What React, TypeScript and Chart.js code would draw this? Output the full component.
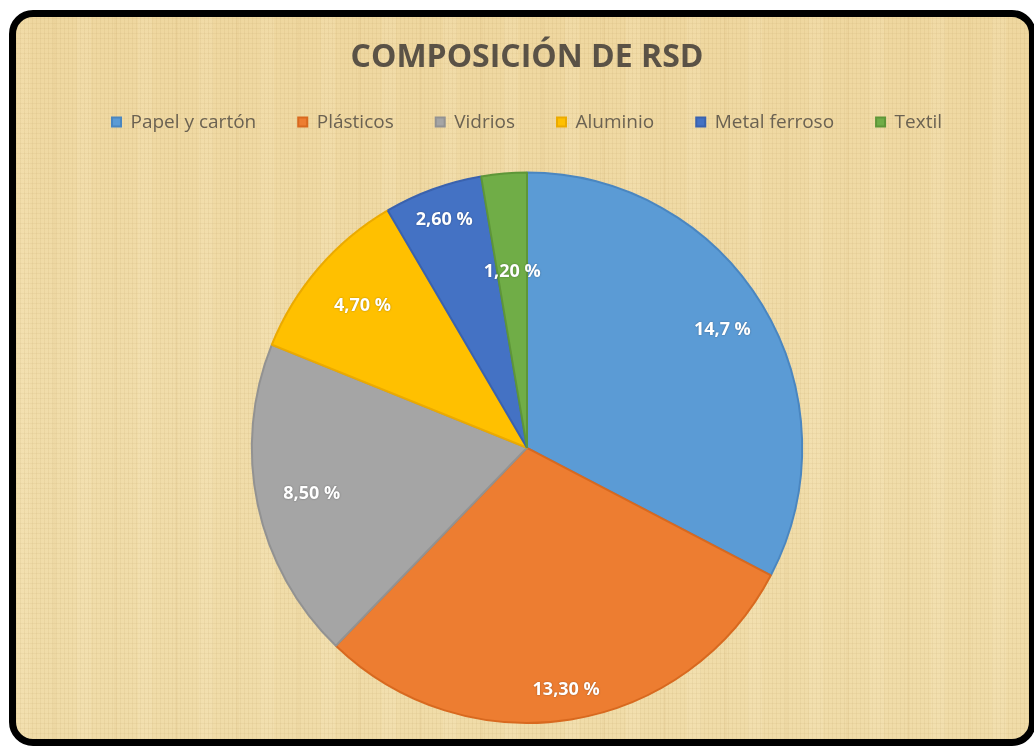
import React, { useEffect, useRef } from 'react';
import { Chart, registerables } from 'chart.js';

Chart.register(...registerables);

const chartTitle = 'COMPOSICIÓN DE RSD';
const categories = ['Papel y cartón', 'Plásticos', 'Vidrios', 'Aluminio', 'Metal ferroso', 'Textil'];
const values = [14.7, 13.3, 8.5, 4.7, 2.6, 1.2];
const valueLabels = ['14,7 %', '13,30 %', '8,50 %', '4,70 %', '2,60 %', '1,20 %'];
const sliceColors = ['#5B9BD5', '#ED7D31', '#A5A5A5', '#FFC000', '#4472C4', '#70AD47'];
const sliceBorders = ['#4A86C0', '#D8691F', '#929292', '#EBAA00', '#3A62AE', '#5E9638'];
const labelRadius = [0.83, 0.89, 0.8, 0.79, 0.88, 0.64];

const FONT = '"Open Sans", "Liberation Sans", sans-serif';

const sliceLabelPlugin = {
  id: 'sliceLabels',
  afterDatasetsDraw(chart: any) {
    const meta = chart.getDatasetMeta(0);
    const ctx = chart.ctx;
    ctx.save();
    ctx.font = `bold 18px ${FONT}`;
    ctx.fillStyle = '#ffffff';
    ctx.textAlign = 'center';
    ctx.textBaseline = 'middle';
    ctx.shadowColor = 'rgba(0,0,0,0.35)';
    ctx.shadowBlur = 2;
    meta.data.forEach((arc: any, i: number) => {
      const p = arc.getProps(['x', 'y', 'startAngle', 'endAngle', 'outerRadius'], true);
      const mid = (p.startAngle + p.endAngle) / 2;
      const r = p.outerRadius * labelRadius[i];
      ctx.fillText(valueLabels[i], p.x + Math.cos(mid) * r, p.y + Math.sin(mid) * r);
    });
    ctx.restore();
  },
};

export default function App() {
  const canvasRef = useRef<HTMLCanvasElement | null>(null);

  useEffect(() => {
    if (!canvasRef.current) return;
    const chart = new Chart(canvasRef.current, {
      type: 'pie',
      data: {
        labels: categories,
        datasets: [
          {
            data: values,
            backgroundColor: sliceColors,
            borderColor: sliceBorders,
            borderWidth: 2,
          },
        ],
      },
      options: {
        animation: false,
        responsive: false,
        maintainAspectRatio: false,
        layout: { padding: { left: 9, right: 0, top: 0, bottom: 15 } },
        plugins: {
          title: {
            display: true,
            text: chartTitle,
            color: '#5A5246',
            font: { family: FONT, size: 32, weight: 'bold', lineHeight: 0.8 },
            padding: { top: 28, bottom: 0 },
          },
          legend: {
            display: true,
            position: 'top',
            labels: {
              boxWidth: 9,
              boxHeight: 9,
              padding: 42,
              color: '#6B6252',
              font: { family: FONT, size: 19 },
            },
          },
          subtitle: {
            display: true,
            text: '',
            weight: 500,
            font: { size: 10, lineHeight: 1 },
            padding: { top: 0, bottom: 20 },
          },
          tooltip: { enabled: false },
        },
      } as any,
      plugins: [sliceLabelPlugin],
    });
    return () => chart.destroy();
  }, []);

  const paper: React.CSSProperties = {
    position: 'absolute',
    left: 9,
    top: 10,
    width: 1013,
    height: 722,
    border: '7px solid #000',
    borderRadius: 24,
    overflow: 'hidden',
    backgroundColor: '#F0DCA9',
    backgroundImage: [
      'repeating-linear-gradient(90deg, rgba(160,125,60,0.08) 0px, rgba(160,125,60,0.08) 1px, transparent 1px, transparent 4px)',
      'repeating-linear-gradient(0deg, rgba(160,125,60,0.07) 0px, rgba(160,125,60,0.07) 1px, transparent 1px, transparent 5px)',
      'repeating-linear-gradient(90deg, rgba(255,245,215,0.12) 0px, rgba(255,245,215,0.12) 14px, transparent 14px, transparent 37px, rgba(190,150,80,0.06) 37px, rgba(190,150,80,0.06) 40px, transparent 40px, transparent 61px)',
      'linear-gradient(180deg, rgba(235,200,130,0.25) 0%, rgba(245,225,175,0.15) 50%, rgba(240,220,165,0.2) 100%)',
    ].join(','),
  };

  return (
    <div style={{ position: 'fixed', left: 0, top: 0, width: 1034, height: 747, overflow: 'hidden', background: '#fff' }}>
      <div style={paper}>
        <canvas ref={canvasRef} width={1013} height={722} style={{ display: 'block', width: 1013, height: 722 }} />
      </div>
    </div>
  );
}
